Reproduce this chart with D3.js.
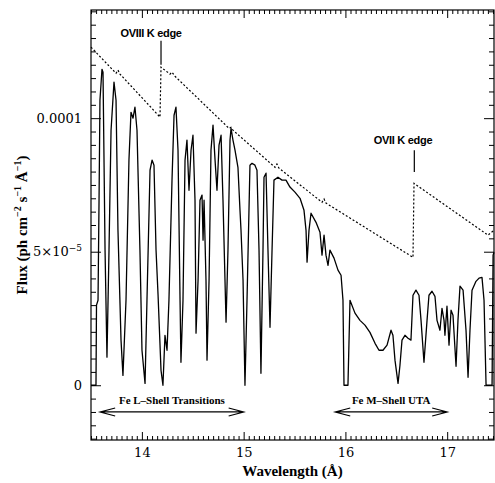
<!DOCTYPE html>
<html>
<head>
<meta charset="utf-8">
<script src="https://cdn.jsdelivr.net/npm/d3@7"></script>
<style>
    body { margin: 0; background: #fff; }
    text { font-family: "DejaVu Serif", "Liberation Serif", serif; fill: #000; }
</style>
</head>
<body>
<svg id="grafico"></svg>
<script>
// espectro absorvido: comprimento de onda (Å) e fluxo (unidades de 1e-5 ph cm-2 s-1 Å-1)
const comprimentos = [13.500, 13.549, 13.554, 13.569, 13.579, 13.588, 13.608, 13.618, 13.638, 13.657,
    13.677, 13.697, 13.726, 13.746, 13.765, 13.795, 13.814, 13.844, 13.873, 13.893,
    13.913, 13.932, 13.952, 13.981, 14.001, 14.031, 14.050, 14.080, 14.100, 14.119,
    14.139, 14.159, 14.188, 14.207, 14.227, 14.247, 14.266, 14.296, 14.316, 14.335,
    14.355, 14.375, 14.384, 14.404, 14.424, 14.443, 14.463, 14.483, 14.502, 14.522,
    14.532, 14.552, 14.571, 14.591, 14.601, 14.611, 14.630, 14.640, 14.660, 14.679,
    14.699, 14.719, 14.738, 14.758, 14.778, 14.797, 14.827, 14.846, 14.866, 14.876,
    14.895, 14.915, 14.944, 14.964, 14.974, 14.994, 15.013, 15.033, 15.062, 15.082,
    15.111, 15.131, 15.151, 15.170, 15.190, 15.200, 15.220, 15.239, 15.259, 15.279,
    15.298, 15.337, 15.377, 15.416, 15.455, 15.504, 15.554, 15.593, 15.613, 15.623,
    15.642, 15.662, 15.711, 15.750, 15.770, 15.790, 15.809, 15.829, 15.848, 15.888,
    15.927, 15.957, 15.976, 15.986, 16.025, 16.045, 16.094, 16.143, 16.192, 16.241,
    16.291, 16.330, 16.369, 16.409, 16.448, 16.467, 16.487, 16.517, 16.536, 16.556,
    16.585, 16.615, 16.644, 16.664, 16.693, 16.723, 16.743, 16.772, 16.802, 16.821,
    16.851, 16.880, 16.900, 16.929, 16.949, 16.969, 16.978, 16.998, 17.018, 17.038,
    17.057, 17.087, 17.106, 17.126, 17.156, 17.185, 17.205, 17.224, 17.244, 17.283,
    17.313, 17.342, 17.362, 17.382, 17.441, 17.451, 17.460];
const fluxos = [0, 0, 3.0, 3.18, 6.93, 10.67, 11.83, 11.72, 5.06, 1.05,
    5.06, 9.55, 11.35, 10.67, 5.8, 1.69, 0.37, 3.18, 8.43, 10.22,
    10.0, 10.41, 9.55, 5.06, 1.31, 0.07, 3.18, 8.05, 8.43, 8.24,
    5.06, 3.37, 0.56, 0, 1.87, 1.31, 3.18, 7.68, 10.11, 10.41,
    8.8, 3.18, 0.86, 3.18, 8.43, 9.18, 7.30, 8.80, 9.36, 6.93,
    1.95, 3.93, 6.93, 7.12, 5.43, 6.93, 3.93, 0.94, 3.93, 8.80,
    9.74, 8.43, 7.30, 8.99, 9.36, 6.93, 2.36, 5.06, 9.18, 9.62,
    9.18, 8.80, 8.16, 6.55, 5.80, 3.93, 0, 3.18, 8.24, 8.31,
    8.24, 8.05, 5.06, 0.45, 5.06, 7.79, 7.94, 5.06, 2.17, 5.06,
    7.68, 7.79, 7.68, 7.68, 7.42, 7.23, 7.0, 6.55, 5.80, 4.61,
    5.80, 6.44, 6.10, 5.73, 4.87, 5.62, 4.87, 4.49, 5.06, 4.76,
    4.31, 4.12, 3.18, 0, 0, 3.18, 2.70, 2.43, 2.25, 1.98,
    1.57, 1.31, 1.31, 1.50, 2.06, 1.87, 0.94, 0.07, 0.75, 1.69,
    1.87, 1.76, 1.69, 3.37, 3.56, 3.37, 2.43, 0.86, 2.43, 3.37,
    3.52, 3.33, 2.43, 2.06, 2.88, 2.43, 1.87, 2.96, 1.50, 2.81,
    2.62, 0.71, 2.43, 3.71, 3.56, 2.06, 0.30, 2.06, 3.56, 3.89,
    4.01, 4.04, 3.18, 0, 0, 4.87, 4.98];

// continuo sem absorcao (linha pontilhada)
const contComprimentos = [13.500, 13.746, 13.765, 13.785, 14.178, 14.188, 14.276, 14.296, 14.325,
    14.856, 14.876, 14.895, 15.308, 15.327, 15.347, 15.770, 15.790, 15.809,
    16.664, 16.674, 17.401, 17.460];
const contFluxos = [12.66, 11.68, 11.80, 11.65, 10.04, 11.91, 11.65, 11.72, 11.57,
    9.62, 9.66, 9.55, 8.16, 8.28, 8.13, 6.85, 6.97, 6.82,
    4.79, 7.56, 5.62, 5.80];

const ticksX = [14, 15, 16, 17];
const ticksY = [0, 5e-5, 1e-4];

const bordas = [
    { rotulo: 'OVIII K edge', lambda: 14.188, de: 12.0, ate: 12.9, textoLambda: 14.09, textoFluxo: 13.05 },
    { rotulo: 'OVII K edge', lambda: 16.677, de: 7.98, ate: 8.8, textoLambda: 16.566, textoFluxo: 9.05 }
];
const faixas = [
    { rotulo: 'Fe L\u2013Shell Transitions', inicio: 13.59, fim: 15.0, fluxo: -1.0 },
    { rotulo: 'Fe M\u2013Shell UTA', inicio: 15.9, fim: 17.0, fluxo: -1.0 }
];

const ESCALA = 1e-5;
const largura = 495, altura = 483;
const margem = { esquerda: 91, direita: 1, superior: 10, inferior: 43 };

let svg = d3.select('#grafico')
    .attr('width', largura)
    .attr('height', altura);

const fnX = d3.scaleLinear()
    .domain([13.5, 17.46])
    .range([margem.esquerda, largura - margem.direita]);

const fnY = d3.scaleLinear()
    .domain([-2.05e-5, 1.405e-4])
    .range([altura - margem.inferior, margem.superior]);

const x0 = margem.esquerda, x1 = largura - margem.direita;
const y0 = altura - margem.inferior, y1 = margem.superior;

// ticks secundarios
const menoresX = d3.range(13.5, 17.46, 0.05).filter((v) => Math.abs(v - Math.round(v)) > 1e-6);
const menoresY = d3.range(-20, 141, 5).map((v) => v * 1e-6).filter((v) => ticksY.every((t) => Math.abs(t - v) > 1e-9));

function eixo(gerador, escala, valores, tamanho, transform) {
    let g = svg.append('g')
        .attr('transform', transform)
        .call(gerador(escala).tickValues(valores).tickSize(-tamanho).tickFormat(''));
    g.select('.domain').remove();
    g.selectAll('line').attr('stroke', '#000').attr('stroke-width', 1);
    return g;
}

eixo(d3.axisBottom, fnX, menoresX, 4, 'translate(0,' + y0 + ')');
eixo(d3.axisTop, fnX, menoresX, 4, 'translate(0,' + y1 + ')');
eixo(d3.axisTop, fnX, ticksX, 8, 'translate(0,' + y1 + ')');
eixo(d3.axisLeft, fnY, menoresY, 5, 'translate(' + x0 + ',0)');
eixo(d3.axisRight, fnY, menoresY, 5, 'translate(' + x1 + ',0)');
eixo(d3.axisRight, fnY, ticksY, 10, 'translate(' + x1 + ',0)');

let eixoX = svg.append('g')
    .attr('transform', 'translate(0,' + y0 + ')')
    .call(d3.axisBottom(fnX).tickValues(ticksX).tickSize(-8).tickPadding(8).tickFormat(d3.format('d')));
eixoX.select('.domain').remove();
eixoX.selectAll('text').attr('font-size', 13).attr('font-family', '"DejaVu Serif", serif');

let eixoY = svg.append('g')
    .attr('transform', 'translate(' + x0 + ',0)')
    .call(d3.axisLeft(fnY).tickValues(ticksY).tickSize(-10).tickPadding(9)
        .tickFormat((d) => d === 0 ? '0' : d === 1e-4 ? '0.0001' : ''));
eixoY.select('.domain').remove();
eixoY.selectAll('text').attr('font-size', 13).attr('font-family', '"DejaVu Serif", serif');
eixoY.selectAll('.tick').filter((d) => d === 5e-5).select('text')
    .call((t) => {
        t.append('tspan').text('5\u00d710');
        t.append('tspan').attr('font-size', 9).attr('dy', -5).text('\u22125');
    });

svg.selectAll('.tick line').attr('stroke', '#000');

// moldura
svg.append('rect')
    .attr('x', x0).attr('y', y1)
    .attr('width', x1 - x0).attr('height', y0 - y1)
    .attr('fill', 'none').attr('stroke', '#000').attr('stroke-width', 1.2);

// continuo
const continuo = contComprimentos.map((l, i) => [l, contFluxos[i] * ESCALA]);
svg.append('path')
    .datum(continuo)
    .attr('fill', 'none')
    .attr('stroke', '#000')
    .attr('stroke-width', 1.2)
    .attr('stroke-dasharray', '2,2')
    .attr('d', d3.line().x((d) => fnX(d[0])).y((d) => fnY(d[1])));

// espectro absorvido
const espectro = comprimentos.map((l, i) => [l, fluxos[i] * ESCALA]);
svg.append('path')
    .datum(espectro)
    .attr('fill', 'none')
    .attr('stroke', '#000')
    .attr('stroke-width', 1.3)
    .attr('stroke-linejoin', 'round')
    .attr('d', d3.line().x((d) => fnX(d[0])).y((d) => fnY(d[1])));

// bordas K
bordas.forEach((b) => {
    svg.append('line')
        .attr('x1', fnX(b.lambda)).attr('x2', fnX(b.lambda))
        .attr('y1', fnY(b.de * ESCALA)).attr('y2', fnY(b.ate * ESCALA))
        .attr('stroke', '#000').attr('stroke-width', 1.2);
    svg.append('text')
        .attr('x', fnX(b.textoLambda))
        .attr('y', fnY(b.textoFluxo * ESCALA))
        .attr('text-anchor', 'middle')
        .style('font-family', '"Liberation Sans", Arial, sans-serif')
        .style('font-weight', 'bold')
        .style('font-size', '11px')
        .style('letter-spacing', '-0.3px')
        .text(b.rotulo);
});

// faixas com setas duplas
faixas.forEach((f) => {
    let xa = fnX(f.inicio), xb = fnX(f.fim), yy = fnY(f.fluxo * ESCALA);
    svg.append('path')
        .attr('fill', 'none').attr('stroke', '#000').attr('stroke-width', 1.2)
        .attr('d', 'M' + xa + ',' + yy + 'L' + xb + ',' + yy +
            'M' + (xa + 15) + ',' + (yy - 4) + 'L' + xa + ',' + yy + 'L' + (xa + 15) + ',' + (yy + 4) +
            'M' + (xb - 15) + ',' + (yy - 4) + 'L' + xb + ',' + yy + 'L' + (xb - 15) + ',' + (yy + 4));
    svg.append('text')
        .attr('x', (xa + xb) / 2)
        .attr('y', yy - 8)
        .attr('text-anchor', 'middle')
        .style('font-family', '"Liberation Serif", serif')
        .style('font-weight', 'bold')
        .style('font-size', '11px')
        .text(f.rotulo);
});

// titulos dos eixos
svg.append('text')
    .attr('x', (x0 + x1) / 2)
    .attr('y', 476)
    .attr('text-anchor', 'middle')
    .style('font-family', '"Liberation Serif", serif')
    .style('font-weight', 'bold')
    .style('font-size', '15px')
    .text('Wavelength (\u00c5)');

let tituloY = svg.append('text')
    .attr('transform', 'translate(27,' + ((y0 + y1) / 2) + ') rotate(-90)')
    .attr('text-anchor', 'middle')
    .style('font-family', '"Liberation Serif", serif')
    .style('font-weight', 'bold')
    .style('font-size', '15px');
tituloY.append('tspan').text('Flux (ph cm');
tituloY.append('tspan').attr('dy', -6).style('font-size', '10px').text('\u22122');
tituloY.append('tspan').attr('dy', 6).text(' s');
tituloY.append('tspan').attr('dy', -6).style('font-size', '10px').text('\u22121');
tituloY.append('tspan').attr('dy', 6).text(' \u00c5');
tituloY.append('tspan').attr('dy', -6).style('font-size', '10px').text('\u22121');
tituloY.append('tspan').attr('dy', 6).text(')');
</script>
</body>
</html>
